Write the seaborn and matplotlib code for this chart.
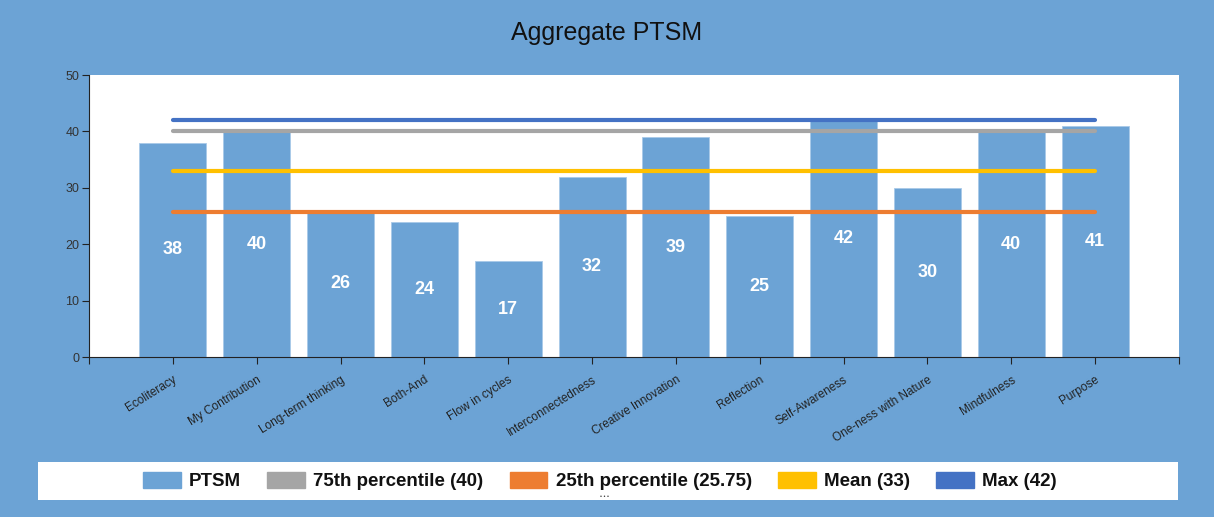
import matplotlib
matplotlib.use("Agg")
import matplotlib.pyplot as plt
import matplotlib.patches as mpatches
import seaborn as sns
import pandas as pd

# Data
categories = ["Ecoliteracy", "My Contribution", "Long-term thinking", "Both-And",
              "Flow in cycles", "Interconnectedness", "Creative Innovation", "Reflection",
              "Self-Awareness", "One-ness with Nature", "Mindfulness", "Purpose"]
ptsm = [38, 40, 26, 24, 17, 32, 39, 25, 42, 30, 40, 41]

ref_names = ["75th percentile (40)", "25th percentile (25.75)", "Mean (33)", "Max (42)"]
ref_values = [40, 25.75, 33, 42]
ref_colors = ["#A5A5A5", "#ED7D31", "#FFC000", "#4472C4"]

bg = "#6CA3D5"
bar_color = "#6CA3D5"

sns.set_style("white")
plt.rcParams["font.family"] = ["Liberation Sans", "DejaVu Sans"]

df = pd.DataFrame({"category": categories, "PTSM": ptsm})

fig = plt.figure(figsize=(12.14, 5.17), dpi=100, facecolor=bg)
ax = fig.add_axes([89 / 1214, 1 - 357 / 517, 1090 / 1214, 282 / 517])
ax.set_facecolor("white")

sns.barplot(data=df, x="category", y="PTSM", color=bar_color, width=0.8,
            saturation=1, edgecolor="#A9C9E8", linewidth=0.6, ax=ax, zorder=2)

# reference lines on top of bars
for name, val, col in zip(ref_names, ref_values, ref_colors):
    ax.plot([0, len(categories) - 1], [val, val], color=col, lw=3,
            solid_capstyle="round", zorder=4)

# value labels inside bars
for i, v in enumerate(ptsm):
    ax.text(i, v / 2, str(v), ha="center", va="center", color="white",
            fontsize=13, fontweight="bold", zorder=5)

ax.set_xlim(-1, len(categories))
ax.set_ylim(0, 50)
ax.set_yticks([0, 10, 20, 30, 40, 50])
ax.set_xticks(range(-1, len(categories) + 1))
ax.set_xticklabels([""] + categories + [""], rotation=32, ha="right",
                   rotation_mode="anchor", fontsize=8.5, color="#222222")
ax.tick_params(axis="x", bottom=True, length=5, width=0.8, color="#222222",
               pad=7, direction="out")
ax.tick_params(axis="y", left=True, length=5, width=0.8, color="#222222",
               labelsize=9, labelcolor="#333333", direction="out", pad=2)
ax.set_xlabel("")
ax.set_ylabel("")
for s in ["top", "right"]:
    ax.spines[s].set_visible(False)
for s in ["left", "bottom"]:
    ax.spines[s].set_color("#222222")
    ax.spines[s].set_linewidth(0.8)

fig.text(0.5, 1 - 33 / 517, "Aggregate PTSM", ha="center", va="center",
         fontsize=18, color="#111111")

# legend panel
panel = mpatches.Rectangle((38 / 1214, 1 - 500 / 517), 1140 / 1214, 38 / 517,
                           transform=fig.transFigure, facecolor="white",
                           edgecolor="none", zorder=0)
fig.patches.append(panel)

handles = [mpatches.Patch(color=bar_color, label="PTSM")]
handles += [mpatches.Patch(color=c, label=n) for n, c in zip(ref_names, ref_colors)]
leg = fig.legend(handles=handles, loc="center", ncol=5,
                 bbox_to_anchor=(600 / 1214, 1 - 481 / 517), frameon=False,
                 prop={"weight": "bold", "size": 13.5},
                 handlelength=2.0, handleheight=1.0, handletextpad=0.45,
                 columnspacing=1.4)
for t in leg.get_texts():
    t.set_color("#111111")
fig.text(604 / 1214, 1 - 496 / 517, "• • •", ha="center", va="center",
         fontsize=4, color="#333333")

fig.savefig("out.png", dpi=100, facecolor=bg)
